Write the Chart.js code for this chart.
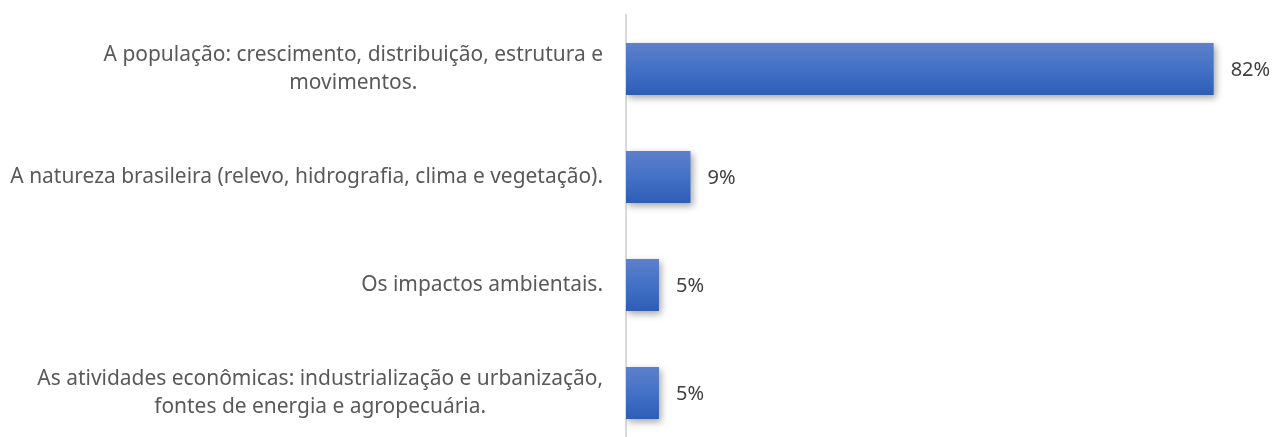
<!DOCTYPE html>
<html>
<head>
<meta charset="utf-8">
<script src="https://cdn.jsdelivr.net/npm/chart.js@4"></script>
<style>
  html, body { margin: 0; padding: 0; background: #fff; overflow: hidden; }
  #wrap { width: 1274px; height: 450px; }
</style>
</head>
<body>
<div id="wrap"><canvas id="myChart"></canvas></div>
<script>
var categories = [
  ["A população: crescimento, distribuição, estrutura e", "movimentos."],
  ["A natureza brasileira (relevo, hidrografia, clima e vegetação)."],
  ["Os impactos ambientais."],
  ["As atividades econômicas: industrialização e urbanização,", "fontes de energia e agropecuária."]
];
var values = [82, 9, 4.6, 4.6];
var valueLabels = ["82%", "9%", "5%", "5%"];

var FONT = "'Noto Sans', 'Open Sans', sans-serif";
var BAR_FRAC = 0.48;

function barGradient(c) {
  var chart = c.chart;
  var y = chart.scales.y;
  if (!chart.chartArea || !y) return '#4472C4';
  var center = y.getPixelForValue(c.dataIndex);
  var half = (y.height / categories.length) * BAR_FRAC / 2;
  var g = chart.ctx.createLinearGradient(0, center - half, 0, center + half);
  g.addColorStop(0, '#5E80CB');
  g.addColorStop(0.5, '#4271C6');
  g.addColorStop(1, '#2E5DB6');
  return g;
}

// soft shadow under the bars
var barShadow = {
  id: 'barShadow',
  beforeDatasetsDraw: function(chart) {
    var ctx = chart.ctx;
    ctx.save();
    ctx.shadowColor = 'rgba(0,0,0,0.35)';
    ctx.shadowBlur = 7;
    ctx.shadowOffsetX = 2;
    ctx.shadowOffsetY = 3;
  },
  afterDatasetsDraw: function(chart) {
    chart.ctx.restore();
  }
};

// category labels: block right aligned, lines centred inside block
var catLabels = {
  id: 'catLabels',
  afterDraw: function(chart) {
    var ctx = chart.ctx;
    var y = chart.scales.y;
    var right = chart.chartArea.left - 23;
    ctx.save();
    var size = 18;
    ctx.font = size + 'px ' + FONT;
    var longest = ctx.measureText(categories[1][0]).width;
    size = size * 593 / longest;
    ctx.font = size + 'px ' + FONT;
    ctx.fillStyle = '#595959';
    ctx.textAlign = 'center';
    ctx.textBaseline = 'middle';
    var lh = 28;
    categories.forEach(function(lines, i) {
      var w = 0;
      lines.forEach(function(l) { w = Math.max(w, ctx.measureText(l).width); });
      var cx = right - w / 2;
      var cy = y.getPixelForValue(i);
      var start = cy - (lines.length - 1) * lh / 2;
      lines.forEach(function(l, j) {
        ctx.fillText(l, cx, start + j * lh);
      });
    });
    // value labels
    var x = chart.scales.x;
    ctx.font = '20px ' + FONT;
    ctx.fillStyle = '#404040';
    ctx.textAlign = 'left';
    values.forEach(function(v, i) {
      ctx.fillText(valueLabels[i], x.getPixelForValue(v) + 17, y.getPixelForValue(i) + 1);
    });
    ctx.restore();
  }
};

var ctx = document.getElementById('myChart').getContext('2d');
var myChart = new Chart(ctx, {
  type: 'bar',
  data: {
    labels: categories,
    datasets: [{
      data: values,
      backgroundColor: barGradient,
      borderWidth: 0,
      barPercentage: 1,
      categoryPercentage: BAR_FRAC
    }]
  },
  options: {
    indexAxis: 'y',
    responsive: true,
    maintainAspectRatio: false,
    animation: false,
    layout: { padding: { left: 0, top: 15, right: 3, bottom: 3 } },
    plugins: {
      legend: { display: false },
      tooltip: { enabled: false }
    },
    scales: {
      x: {
        display: false,
        min: 0,
        max: 90
      },
      y: {
        grid: { display: false },
        border: { display: true, color: '#D9D9D9', width: 2 },
        ticks: { display: false },
        afterFit: function(scale) { scale.width = 626; }
      }
    }
  },
  plugins: [barShadow, catLabels]
});
</script>
</body>
</html>
